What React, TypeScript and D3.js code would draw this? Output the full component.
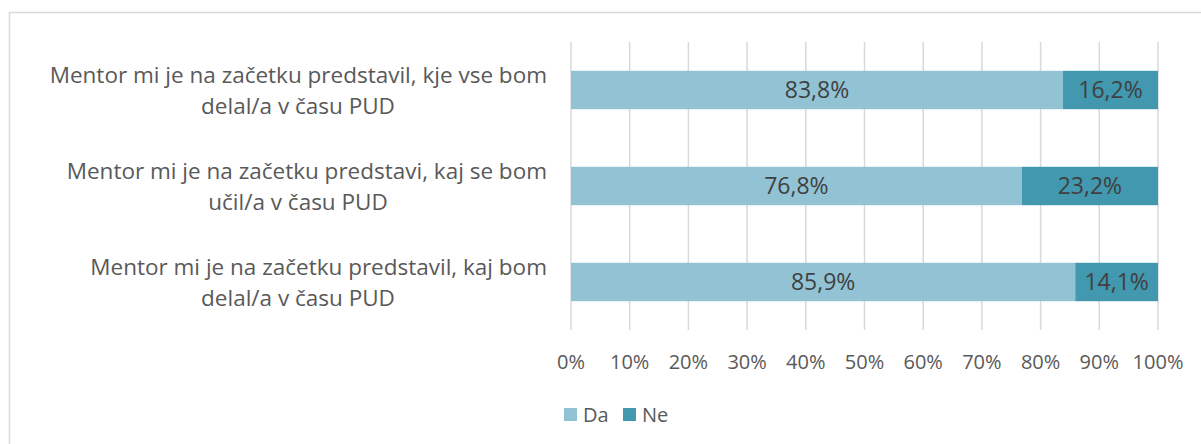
import React from "react";
import * as d3 from "d3";

const categories: string[][] = [
  ["Mentor mi je na začetku predstavil, kje vse bom", "delal/a v času PUD"],
  ["Mentor mi je na začetku predstavi, kaj se bom", "učil/a v času PUD"],
  ["Mentor mi je na začetku predstavil, kaj bom", "delal/a v času PUD"],
];
const daValues = [83.8, 76.8, 85.9];
const neValues = [16.2, 23.2, 14.1];
const seriesNames = ["Da", "Ne"];
const seriesColors = ["#92C3D5", "#4198AF"];
const tickValues = [0, 10, 20, 30, 40, 50, 60, 70, 80, 90, 100];

const W = 1201;
const H = 444;
const FONT = "'Open Sans', 'Noto Sans', sans-serif";

export default function App() {
  const x = d3.scaleLinear().domain([0, 100]).range([571, 1158]);
  const y = d3
    .scaleBand<number>()
    .domain(d3.range(categories.length))
    .range([42, 330])
    .paddingInner(0.6)
    .paddingOuter(0.3);
  const fmt = (v: number) => v.toFixed(1).replace(".", ",") + "%";
  const stacks = categories.map((_, i) => {
    const vals = [daValues[i], neValues[i]];
    let acc = 0;
    return vals.map((v, k) => {
      const s = { x0: acc, x1: acc + v, v, k };
      acc += v;
      return s;
    });
  });

  return (
    <svg
      width={W}
      height={H}
      style={{ position: "absolute", left: 0, top: 0, background: "#fff" }}
      fontFamily={FONT}
    >
      <rect x={9.5} y={12.5} width={1300} height={600} fill="#fff" stroke="#D9D9D9" strokeWidth={1.5} />
      {tickValues.map((t) => (
        <line key={t} x1={x(t)} x2={x(t)} y1={42} y2={330} stroke="#D9D9D9" strokeWidth={1.5} />
      ))}
      {stacks.map((segs, i) =>
        segs.map((s) => (
          <g key={`${i}-${s.k}`}>
            <rect
              x={x(s.x0)}
              y={y(i)!}
              width={x(s.x1) - x(s.x0)}
              height={y.bandwidth()}
              fill={seriesColors[s.k]}
            />
            <text
              x={(x(s.x0) + x(s.x1)) / 2}
              y={y(i)! + y.bandwidth() / 2}
              dy="0.36em"
              textAnchor="middle"
              fontSize={23}
              fill="#404040"
            >
              {fmt(s.v)}
            </text>
          </g>
        ))
      )}
      {categories.map((lines, i) => {
        const cy = y(i)! + y.bandwidth() / 2;
        return (
          <g key={i} fill="#595959" fontSize={22.5}>
            <text x={547} y={cy - 15} dy="0.36em" textAnchor="end">
              {lines[0]}
            </text>
            <text x={298} y={cy + 16} dy="0.36em" textAnchor="middle">
              {lines[1]}
            </text>
          </g>
        );
      })}
      {tickValues.map((t) => (
        <text key={t} x={x(t)} y={362} dy="0.36em" textAnchor="middle" fontSize={20} fill="#595959">
          {t}%
        </text>
      ))}
      {seriesNames.map((n, k) => {
        const lx = k === 0 ? 564 : 623;
        return (
          <g key={n}>
            <rect x={lx} y={408} width={13} height={13} fill={seriesColors[k]} />
            <text x={lx + 19} y={414.5} dy="0.36em" fontSize={20} fill="#595959">
              {n}
            </text>
          </g>
        );
      })}
    </svg>
  );
}
